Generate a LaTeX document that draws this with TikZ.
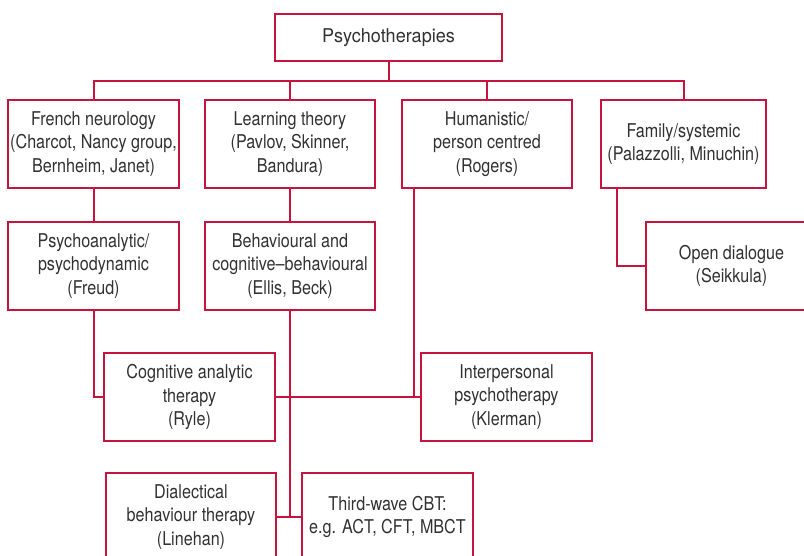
\documentclass[tikz,border=0pt]{standalone}
\usepackage{fontspec}
\setmainfont[FakeStretch=0.85]{TeX Gyre Heros}
\newfontfamily\topfont[FakeStretch=0.95]{TeX Gyre Heros}
\definecolor{crim}{RGB}{198,20,62}
\definecolor{txt}{RGB}{50,50,50}
\tikzset{
  box/.style={draw=crim, line width=1.4pt, rectangle, minimum width=#1, minimum height=88pt, inner sep=0pt, align=center, text=txt, font=\fontsize{19}{23.5}\selectfont},
  box/.default=171pt,
  conn/.style={draw=crim, line width=2pt}
}
\begin{document}
\begin{tikzpicture}[x=1pt,y=-1pt]
\clip (0,0) rectangle (804,556);
\fill[white] (0,0) rectangle (804,556);
\node[box=227pt, minimum height=47pt, font=\topfont\fontsize{19}{23.5}\selectfont] (top) at (388.5,37.5) {Psychotherapies};
\node[box] (french) at (93.5,144) {French neurology\\(Charcot, Nancy group,\\Bernheim, Janet)};
\node[box=170pt] (learning) at (290,144) {Learning theory\\(Pavlov, Skinner,\\Bandura)};
\node[box=170pt] (human) at (487,144) {Humanistic/\\person centred\\(Rogers)};
\node[box=165pt] (family) at (683.5,144) {Family/systemic\\(Palazzolli, Minuchin)};
\node[box] (psycho) at (93.5,266) {Psychoanalytic/\\psychodynamic\\(Freud)};
\node[box=170pt] (behav) at (290,266) {Behavioural and\\cognitive--behavioural\\(Ellis, Beck)};
\node[box] (open) at (731.5,266) {Open dialogue\\(Seikkula)};
\node[box] (cat) at (189.5,397) {Cognitive analytic\\therapy\\(Ryle)};
\node[box] (ipt) at (506.5,397) {Interpersonal\\psychotherapy\\(Klerman)};
\node[box=170pt] (dbt) at (191,517) {Dialectical\\behaviour therapy\\(Linehan)};
\node[box] (third) at (387.5,517) {Third-wave CBT:\\e.g. ACT, CFT, MBCT};
\coordinate (bus) at (0,81);
\coordinate (fj) at (617,266);
\coordinate (hj) at (414,397);
\draw[conn] (top.south) -- (top.south |- bus);
\draw[conn] (french.north) -- (french.north |- bus) -- (family.north |- bus) -- (family.north);
\draw[conn] (learning.north) -- (learning.north |- bus);
\draw[conn] (human.north) -- (human.north |- bus);
\draw[conn] (french.south) -- (psycho.north);
\draw[conn] (learning.south) -- (behav.north);
\draw[conn] (fj |- family.south) -- (fj) -- (open.west);
\draw[conn] (hj |- human.south) -- (hj) -- (ipt.west);
\draw[conn] (cat.east) -- (hj);
\draw[conn] (psycho.south) -- (psycho.south |- cat.west) -- (cat.west);
\draw[conn] (behav.south) -- (behav.south |- dbt.east);
\draw[conn] (dbt.east) -- (third.west);
\end{tikzpicture}
\end{document}
